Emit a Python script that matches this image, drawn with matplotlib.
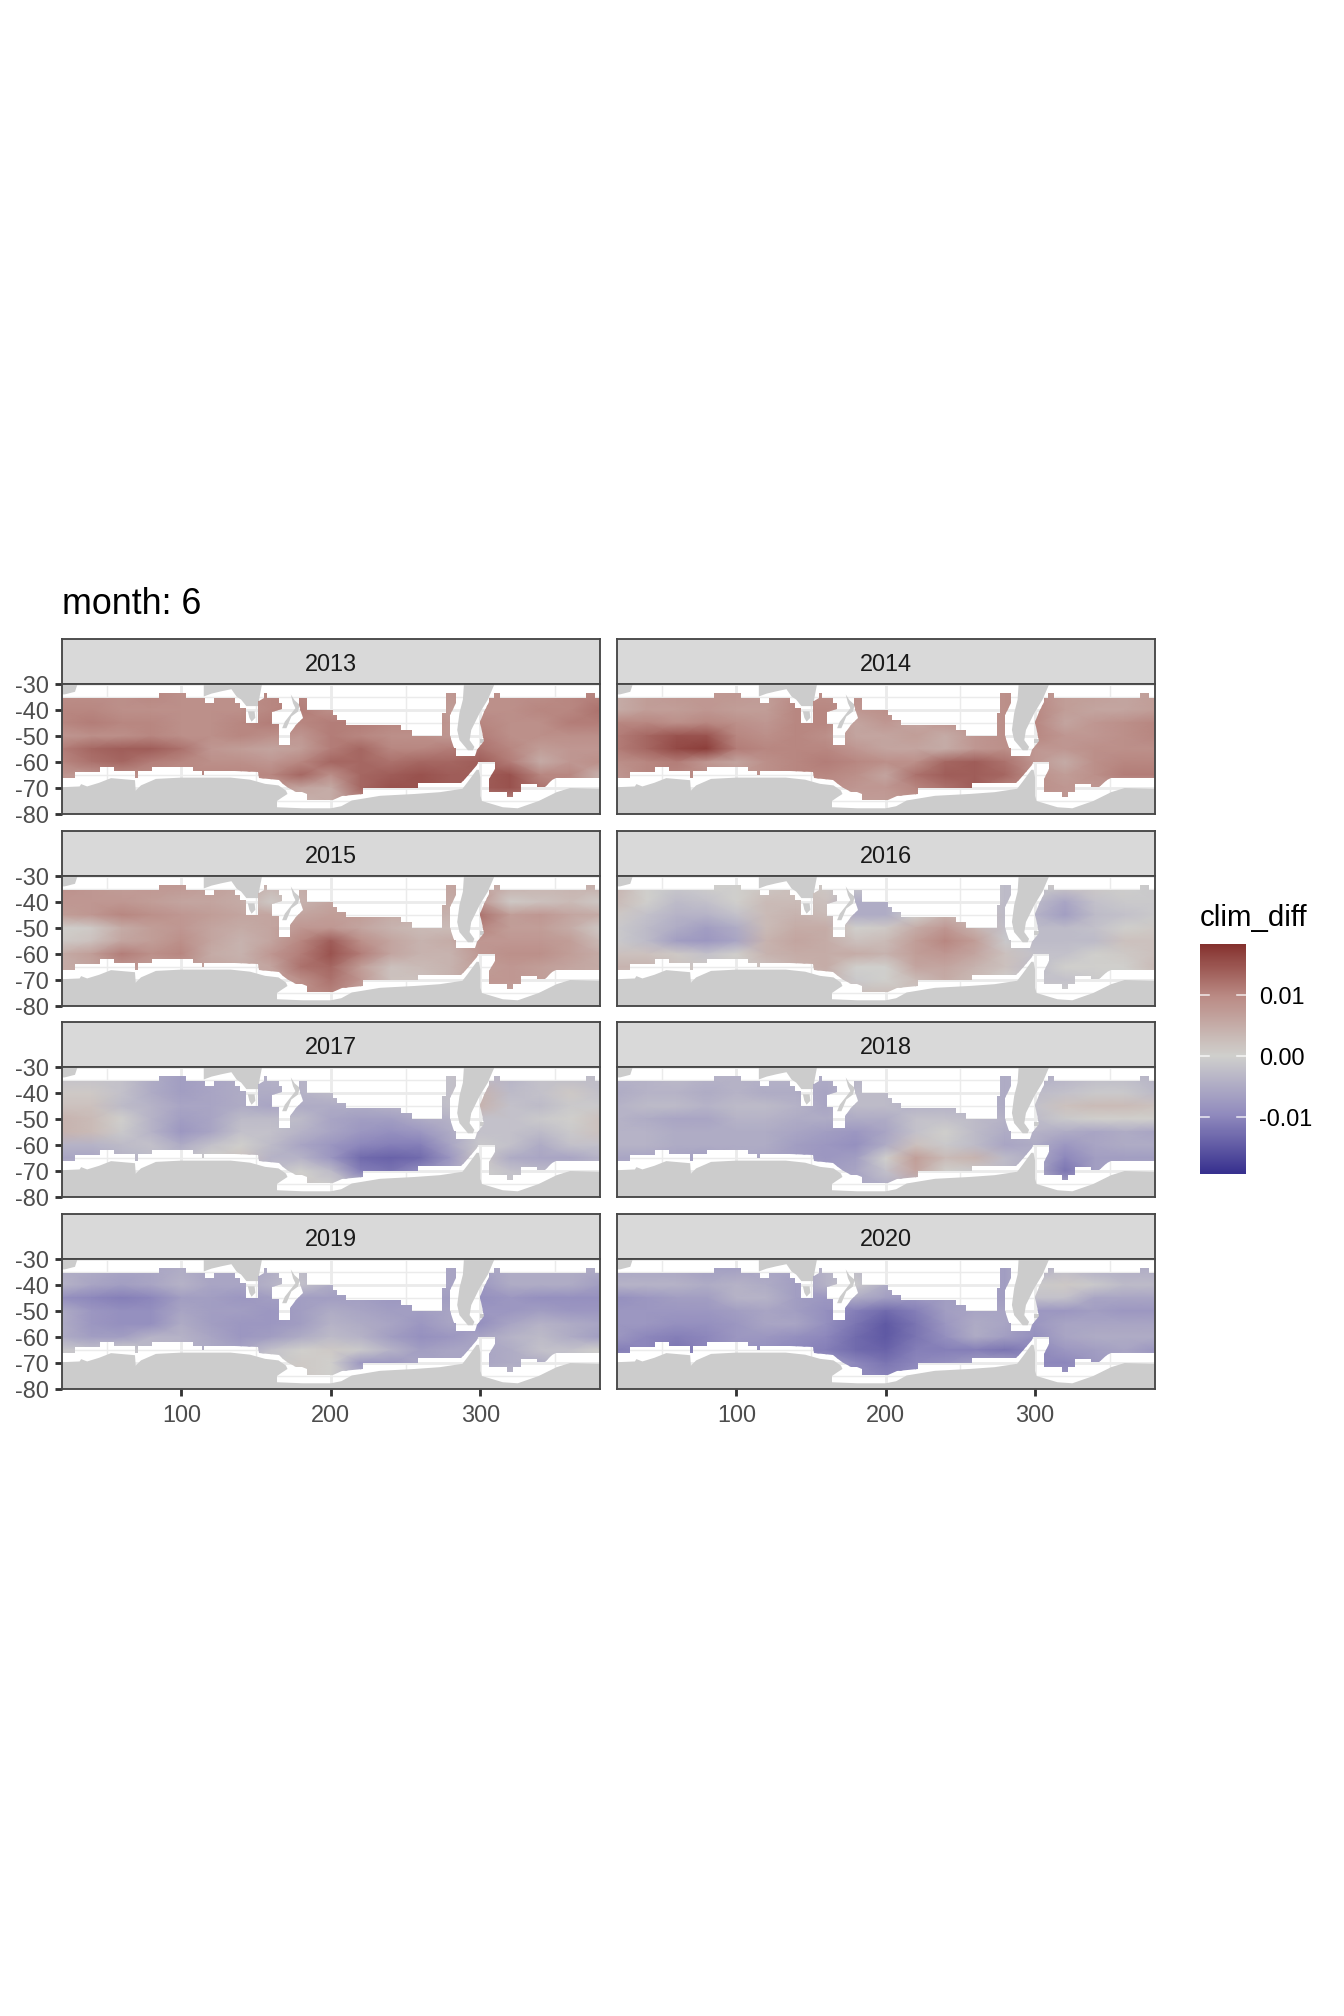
import matplotlib
matplotlib.use("Agg")
import matplotlib.pyplot as plt
import numpy as np
from matplotlib.colors import LinearSegmentedColormap, Normalize
from matplotlib.patches import Polygon

plt.rcParams['font.family'] = ['Liberation Sans', 'DejaVu Sans']

YEARS = [2013, 2014, 2015, 2016, 2017, 2018, 2019, 2020]
TITLE = "month: 6"
LEGEND_TITLE = "clim_diff"
LEGEND_TICKS = [0.01, 0.0, -0.01]
LEGEND_LABELS = ["0.01", "0.00", "-0.01"]
SCALE_TOP, SCALE_BOTTOM = 0.01836, -0.01934

LON_NODES = [20, 40, 60, 80, 100, 120, 140, 160, 180, 200, 220, 240, 260, 280, 300, 320, 340, 360, 380]
LAT_NODES = [-33, -40, -45, -50, -55, -60, -65, -70, -76]

# clim_diff, in units of 0.001, read per node (rows = LAT_NODES, columns = LON_NODES)
V2013 = [
    [9, 9, 9, 10, 9, 9, 9, 10, 10, 9, 9, 9, 9, 8, 9, 9, 9, 10, 10],
    [10, 10, 9, 9, 9, 9, 9, 10, 11, 9, 9, 9, 9, 7, 9, 9, 10, 10, 12],
    [10, 11, 10, 10, 9, 9, 10, 11, 10, 11, 11, 10, 10, 8, 10, 9, 9, 11, 11],
    [8, 9, 9, 10, 9, 9, 10, 9, 8, 11, 10, 9, 9, 8, 11, 9, 9, 9, 9],
    [11, 13, 14, 14, 12, 8, 7, 6, 7, 11, 13, 10, 10, 11, 12, 10, 7, 8, 8],
    [10, 12, 13, 11, 10, 9, 9, 8, 10, 13, 13, 12, 13, 13, 14, 11, 5, 8, 9],
    [8, 8, 9, 9, 9, 10, 10, 10, 13, 9, 13, 14, 15, 14, 14, 15, 10, 10, 4],
    [8, 8, 8, 8, 8, 8, 8, 8, 6, 5, 13, 15, 15, 14, 14, 15, 12, 8, 6],
    [5, 5, 5, 5, 5, 5, 5, 5, 4, 5, 8, 8, 8, 8, 8, 8, 8, 8, 8],
]
V2014 = [
    [5, 7, 8, 8, 8, 7, 9, 9, 9, 8, 8, 8, 8, 9, 9, 7, 7, 6, 7],
    [5, 7, 7, 8, 7, 7, 10, 10, 8, 9, 9, 8, 8, 9, 10, 7, 6, 6, 7],
    [10, 10, 9, 10, 9, 8, 10, 10, 6, 8, 6, 8, 8, 9, 10, 6, 8, 9, 10],
    [11, 13, 15, 15, 10, 9, 10, 9, 6, 6, 7, 5, 8, 9, 10, 8, 8, 9, 10],
    [11, 13, 16, 17, 11, 10, 10, 10, 8, 6, 6, 5, 8, 9, 8, 8, 9, 9, 9],
    [9, 10, 11, 8, 6, 9, 10, 11, 10, 9, 9, 13, 14, 12, 8, 5, 9, 10, 10],
    [8, 10, 10, 9, 8, 9, 10, 10, 9, 6, 12, 14, 14, 13, 9, 7, 9, 11, 11],
    [8, 8, 8, 8, 8, 8, 8, 9, 8, 8, 10, 12, 14, 10, 9, 8, 8, 6, 6],
    [6, 6, 6, 6, 6, 6, 6, 6, 7, 7, 8, 8, 8, 8, 8, 8, 8, 8, 8],
]
V2015 = [
    [9, 8, 7, 8, 8, 7, 6, 4, 5, 6, 6, 6, 6, 6, 6, 5, 4, 4, 5],
    [8, 8, 8, 7, 6, 6, 5, 1, 4, 6, 6, 6, 6, 5, 8, 1, 2, 3, 1],
    [7, 8, 10, 9, 8, 7, 6, 6, 6, 7, 7, 5, 5, 4, 12, 7, 8, 6, 5],
    [0, 1, 5, 7, 8, 6, 5, 6, 8, 8, 6, 4, 3, 3, 10, 7, 7, 5, 1],
    [1, 2, 6, 7, 9, 6, 4, 6, 10, 14, 9, 6, 4, 5, 8, 8, 8, 7, 3],
    [5, 7, 11, 9, 10, 5, 4, 8, 11, 15, 11, 6, 4, 4, 8, 9, 9, 7, 5],
    [5, 6, 8, 7, 7, 6, 5, 6, 12, 13, 7, 2, 3, 4, 7, 8, 7, 6, 5],
    [5, 5, 5, 5, 5, 5, 5, 6, 9, 12, 8, 2, 2, 4, 8, 8, 7, 5, 5],
    [5, 5, 5, 5, 5, 5, 5, 5, 9, 10, 6, 3, 3, 4, 6, 6, 6, 5, 5],
]
V2016 = [
    [4, 0, -1, 0, 0, 1, 2, 1, -1, 0, 0, 0, 0, -3, -1, 1, 1, 0, -1],
    [3, 0, -3, -2, 0, 3, 3, 2, -5, -5, 0, 0, 0, -3, -3, -6, -2, -1, -1],
    [1, -2, -4, -4, -2, 3, 4, 3, -5, -5, 0, 4, 3, -3, -4, -7, -3, -2, -1],
    [-1, -3, -5, -7, -5, 3, 5, 5, 0, 1, 5, 8, 4, -2, -3, -3, -2, 0, 1],
    [-1, -3, -7, -8, -6, 4, 6, 5, 2, 3, 7, 10, 7, -1, -3, -3, -3, 2, 2],
    [2, 2, 1, -2, 0, 4, 5, 5, 5, 4, 7, 8, 6, 2, -2, -2, 0, 1, 2],
    [4, 4, 2, 1, 1, 2, 4, 5, 0, 0, 6, 6, 4, 2, -3, 0, 0, 0, 3],
    [2, 2, 2, 2, 2, 2, 2, 4, -1, 0, 3, 5, 3, 0, -2, -2, -1, 0, 0],
    [1, 1, 1, 1, 1, 1, 1, 1, 3, 3, 1, 1, 1, 0, 0, 0, 0, 0, 0],
]
V2017 = [
    [-2, -2, -2, -5, -7, -6, -5, -4, -4, -3, -3, -3, -2, -2, -3, -4, -2, -3, -3],
    [1, 1, -2, -5, -7, -6, -5, -5, -4, -3, -3, -3, -2, -2, 4, -3, -2, 1, -2],
    [2, 2, -3, -4, -6, -6, -5, -6, -5, -5, -5, -4, -4, -2, 4, -2, -3, -1, -1],
    [4, 3, 0, -4, -7, -6, -3, -3, -3, -6, -7, -7, -5, -4, -2, -2, -1, 0, 2],
    [4, 3, -1, -4, -8, -6, -2, -2, -4, -6, -8, -9, -8, -5, -2, -2, -3, -1, 2],
    [-4, -4, -3, -2, -5, -2, 0, -3, -6, -8, -10, -11, -11, -6, -1, -2, -5, -2, -2],
    [-6, -6, -4, -3, -3, 0, 2, -4, -4, -8, -13, -14, -13, -8, 1, -5, -6, -6, -4],
    [-3, -3, -3, -3, -3, -3, -3, -3, 0, -3, -11, -12, -9, -6, 0, -2, -3, -3, -3],
    [0, 0, 0, 0, 0, 0, 0, 0, 1, 0, -1, -1, -1, -1, -1, -1, -1, -1, -1],
]
V2018 = [
    [-4, -4, -3, -4, -4, -4, -4, -5, -4, -4, -4, -4, -4, -5, -5, -4, -3, -3, -4],
    [-5, -4, -4, -5, -4, -5, -5, -6, -3, -3, -4, -4, -4, -5, -3, -2, -1, -1, -3],
    [-4, -3, -3, -4, -3, -3, -4, -6, -3, -3, -4, -4, -4, -5, -2, 2, 3, 3, 2],
    [-4, -5, -6, -6, -4, -4, -5, -5, -5, -5, -2, -2, -3, -4, -3, -1, 0, 0, 0],
    [-4, -4, -5, -5, -5, -5, -6, -7, -8, -6, -2, 0, -3, -5, -4, -5, -6, -5, -6],
    [-4, -4, -5, -5, -5, -5, -7, -8, -9, -5, 2, -1, -3, -6, -5, -8, -6, -5, -5],
    [-6, -6, -6, -7, -5, -6, -7, -8, -7, 0, 7, 3, 4, -3, -5, -10, -7, -7, -7],
    [-5, -5, -5, -5, -5, -5, -5, -7, -6, -2, 6, 0, -1, -3, -5, -12, -7, -5, -5],
    [-5, -5, -5, -5, -5, -5, -5, -5, -6, -5, -3, -3, -3, -3, -5, -5, -5, -5, -5],
]
V2019 = [
    [-5, -5, -6, -6, -5, -6, -6, -5, -3, -4, -4, -5, -5, -6, -6, -5, -5, -5, -5],
    [-4, -6, -7, -6, -4, -6, -6, -4, -2, -5, -5, -5, -5, -6, -8, -5, -5, -5, -7],
    [-9, -10, -11, -10, -7, -7, -8, -7, -7, -7, -7, -8, -7, -7, -9, -8, -9, -9, -9],
    [-5, -8, -9, -9, -6, -7, -7, -8, -7, -5, -6, -7, -7, -6, -8, -8, -7, -8, -8],
    [-5, -8, -9, -9, -5, -7, -8, -8, -7, -4, -5, -6, -8, -6, -9, -6, -4, -5, -6],
    [-5, -7, -7, -4, -4, -6, -8, -7, -5, -3, -4, -7, -9, -8, -6, -4, -3, -5, -7],
    [-1, -2, 0, -3, -4, -5, -6, -2, 0, 1, -1, -4, -7, -6, -6, -5, -2, -2, 0],
    [-1, -1, -1, -1, -1, -1, -1, -1, 1, 0, -8, -8, -6, -6, -6, -5, -5, -1, -1],
    [0, 0, 0, 0, 0, 0, 0, 0, 1, 0, -3, -3, -3, -3, -3, -3, -3, -3, -3],
]
V2020 = [
    [-6, -6, -6, -7, -7, -6, -6, -4, -3, -5, -6, -6, -6, -7, -5, -3, -5, -5, -5],
    [-4, -4, -4, -5, -4, -5, -7, -4, -1, -5, -6, -6, -6, -7, -1, 1, -1, -3, -3],
    [-9, -8, -7, -7, -4, -4, -7, -8, -5, -7, -8, -7, -7, -7, -2, -2, -6, -6, -6],
    [-8, -8, -8, -8, -7, -6, -7, -9, -11, -13, -11, -7, -6, -6, -8, -8, -7, -8, -8],
    [-8, -8, -9, -9, -8, -6, -6, -9, -12, -15, -12, -8, -5, -6, -8, -6, -6, -6, -6],
    [-8, -10, -11, -10, -8, -8, -9, -10, -13, -15, -12, -9, -5, -7, -9, -6, -5, -5, -5],
    [-11, -10, -12, -10, -8, -9, -10, -11, -13, -14, -11, -11, -11, -12, -10, -8, -7, -6, -8],
    [-8, -8, -8, -8, -8, -8, -8, -7, -10, -12, -10, -9, -7, -6, -10, -10, -8, -6, -6],
    [-8, -8, -8, -8, -8, -8, -8, -8, -9, -10, -9, -7, -7, -7, -8, -8, -8, -8, -8],
]
VALUES = [V2013, V2014, V2015, V2016, V2017, V2018, V2019, V2020]

OCEAN_LON = [20, 85, 85, 103, 103, 116, 116, 122, 122, 136, 136, 139, 139, 143, 143, 151, 151, 152, 155, 155, 157, 157,
             165, 165, 167.5, 167.5, 160.5, 160.5, 165, 165, 173, 173, 177, 181.5, 179, 179, 184, 184, 201.5, 201.5,
             204, 204, 210, 210, 247, 247, 254, 254, 274.3, 274.3, 276.7, 276.7, 283.7, 283.7, 280, 280, 282.5, 283.7, 283.7,
             296.7, 298, 302.5, 300, 302.5, 306, 306, 308.8, 308.8, 313, 313, 370.6, 370.6, 376.6, 376.6, 380,
             380, 350.7, 348, 343, 337.8, 337.8, 327, 327, 322, 322, 318, 318, 306, 306, 309.6, 309.6, 298.5, 297.8, 294,
             289.7, 287, 258, 258, 221.5, 221.5, 207.4, 201.5, 184, 184, 181, 177, 171, 168, 165, 152, 151, 136, 115.5, 115.5,
             113.5, 113.5, 108, 108, 80.6, 80.6, 71, 71, 69, 69, 54.8, 54.8, 45.4, 45.4, 29, 29, 20]
OCEAN_LAT = [-35.4, -35.4, -33.5, -33.5, -35.4, -35.4, -37.4, -37.4, -35.4, -35.4, -37.4, -37.4, -39.3, -39.3, -45, -45, -36.7, -36.7, -35.4, -33.5, -33.5, -35.4,
             -35.4, -37.4, -37.4, -39.5, -40.6, -45.5, -45.5, -53.5, -53.5, -49, -45.8, -43, -38, -35.4, -35.4, -40, -40, -42,
             -42, -44, -44, -45.8, -45.8, -47.7, -47.7, -50, -50, -41.2, -41.2, -33.5, -33.5, -37.4, -42, -50, -54.8, -54.8, -57.6,
             -57.6, -55.4, -52, -44.5, -40.6, -37, -35.4, -35.4, -33.5, -33.5, -35.4, -35.4, -33.5, -33.5, -35.4, -35.4,
             -66, -66, -67, -69.7, -69.7, -68.4, -68.4, -71.6, -71.6, -73.5, -73.5, -71.6, -71.6, -66.5, -62.5, -60, -60, -61.3, -64,
             -66.5, -68, -68, -70, -70, -72.2, -72.9, -74.8, -74.8, -72.2, -71.6, -71.6, -69.7, -68.4, -67, -66, -64, -63.6, -63.6, -65,
             -65, -63.6, -63.6, -62, -62, -63.6, -63.6, -66, -66, -63.6, -63.6, -62, -62, -63.8, -63.8, -66, -66]

ANTARCTICA_LON = [20, 32, 33, 37, 45, 53, 69, 69.5, 73, 83, 100, 133, 146, 156, 165, 170, 171, 167.5, 164, 164, 181, 200, 207, 214,
                  233, 256, 273, 288, 291.5, 297.5, 299, 300, 300, 301, 315, 325, 339, 351, 360, 380, 380, 20]
ANTARCTICA_LAT = [-69.7, -69.4, -68.5, -69.4, -68, -66.2, -67, -71, -69, -66.5, -66, -66, -66.8, -68.4, -69, -71, -72.3, -73.6, -75, -77.4, -77.8, -77.8, -77, -74.8,
                  -73, -72.3, -71.6, -70.3, -67.7, -63, -63, -66, -73, -75, -77.4, -77.8, -75, -71.6, -70, -70.3, -80, -80]
S_AMERICA_LON = [289, 288.3, 286, 284.5, 286, 291.7, 295, 296, 292.8, 293.9, 299.5, 305, 309.5]
S_AMERICA_LAT = [-30, -36, -41.2, -47.7, -51.6, -55.5, -55.5, -54.2, -51.6, -47.7, -41.2, -36, -30]
FALKLAND_LON = [299.5, 303.2, 303.2, 299.5]
FALKLAND_LAT = [-51.3, -51.3, -52.6, -52.6]
AFRICA_LON = [20, 30.6, 28.9, 22, 20]
AFRICA_LAT = [-30, -30, -33, -34, -34]
AUSTRALIA_LON = [115, 115, 120.2, 126.8, 133.5, 136.9, 140, 143.5, 151.3, 152.4, 154]
AUSTRALIA_LAT = [-30, -34.8, -33.7, -32.8, -32, -34.8, -36, -38.5, -38.5, -34.8, -30]
TASMANIA_LON = [144.5, 149, 149.5, 147, 145.5]
TASMANIA_LAT = [-40.5, -40.5, -43, -44.5, -43]
NZ_LON = [173.2, 175.8, 179.2, 178, 173.6, 170.3, 167.4, 169.2, 174, 176.3, 174.7]
NZ_LAT = [-34, -36.3, -38, -40.6, -42.5, -47, -47, -44.5, -41, -39.3, -37.4]
LAND = [(ANTARCTICA_LON, ANTARCTICA_LAT), (S_AMERICA_LON, S_AMERICA_LAT), (FALKLAND_LON, FALKLAND_LAT),
        (AFRICA_LON, AFRICA_LAT), (AUSTRALIA_LON, AUSTRALIA_LAT), (TASMANIA_LON, TASMANIA_LAT), (NZ_LON, NZ_LAT)]

W, H = 1344, 2016
fig = plt.figure(figsize=(W / 192, H / 192), dpi=192, facecolor='white')

def axpx(x0, y0, x1, y1):
    return fig.add_axes([x0 / W, 1 - y1 / H, (x1 - x0) / W, (y1 - y0) / H])

cmap = LinearSegmentedColormap.from_list("clim", [
    (0.0, "#38318F"), (0.25, "#918BBE"), (0.5, "#D0D0CD"), (0.75, "#BB8B85"), (1.0, "#7E2623")])
LIM = max(abs(SCALE_TOP), abs(SCALE_BOTTOM))
norm = Normalize(-LIM, LIM)

COLS = [(61.7, 600), (617, 1154.5)]
ROWS = [(639, 684, 814), (831, 876, 1006), (1022, 1067, 1197), (1214, 1259, 1389)]
DARK = "#333333"
BORDER = "#474747"
LW = 1.07
BORDER_LW = 0.7

for i, year in enumerate(YEARS):
    r, c = i // 2, i % 2
    x0, x1 = COLS[c]
    st, pt, pb = ROWS[r]
    sax = axpx(x0, st, x1, pt)
    sax.set_facecolor("#D9D9D9")
    sax.set_xticks([]); sax.set_yticks([])
    for s in sax.spines.values():
        s.set_color(BORDER); s.set_linewidth(BORDER_LW)
    sax.text(0.5, 0.44, str(year), ha='center', va='center', fontsize=8.8, color="#1A1A1A", transform=sax.transAxes)

    ax = axpx(x0, pt, x1, pb)
    ax.set_xlim(20, 380); ax.set_ylim(-80, -30)
    ax.set_axisbelow(True)
    ax.set_xticks([100, 200, 300]); ax.set_xticks([50, 150, 250, 350], minor=True)
    ax.set_yticks([-30, -40, -50, -60, -70, -80]); ax.set_yticks([-35, -45, -55, -65, -75], minor=True)
    ax.grid(which='major', color="#EBEBEB", lw=LW)
    ax.grid(which='minor', color="#EBEBEB", lw=LW / 2)
    ax.tick_params(which='minor', length=0)
    ax.tick_params(which='major', length=2.75, width=LW, color=DARK, labelcolor="#4D4D4D", labelsize=8.8, pad=2.2)
    ax.tick_params(axis='x', which='major', pad=3)
    ax.set_xticklabels(["100", "200", "300"] if r == 3 else [])
    ax.set_yticklabels(["-30", "-40", "-50", "-60", "-70", "-80"] if c == 0 else [])
    if r != 3:
        ax.tick_params(axis='x', which='major', length=0)
    if c != 0:
        ax.tick_params(axis='y', which='major', length=0)
    for s in ax.spines.values():
        s.set_color(BORDER); s.set_linewidth(BORDER_LW); s.set_zorder(10)
    for lon, lat in LAND:
        ax.add_patch(Polygon(np.column_stack([lon, lat]), closed=True, fc="#CCCCCC", ec="none", zorder=2))
    mesh = ax.pcolormesh(LON_NODES, LAT_NODES, np.array(VALUES[i]) / 1000.0, shading='gouraud',
                         cmap=cmap, norm=norm, zorder=3)
    mesh.set_clip_path(Polygon(np.column_stack([OCEAN_LON, OCEAN_LAT]), closed=True, transform=ax.transData))

fig.text(61.7 / W, 1 - 614.5 / H, TITLE, fontsize=13.4, color="black", ha='left', va='baseline')

BAR = (1200, 944, 1246, 1174)
cax = axpx(*BAR)
cax.imshow(np.linspace(SCALE_TOP, SCALE_BOTTOM, 256)[:, None], aspect='auto', cmap=cmap, norm=norm,
           extent=[0, 1, SCALE_BOTTOM, SCALE_TOP], interpolation='bilinear')
cax.set_xlim(0, 1); cax.set_ylim(SCALE_BOTTOM, SCALE_TOP)
cax.set_xticks([]); cax.set_yticks([])
for s in cax.spines.values():
    s.set_visible(False)
for t, lab in zip(LEGEND_TICKS, LEGEND_LABELS):
    cax.plot([0, 0.2], [t, t], color="white", lw=0.6, alpha=0.8)
    cax.plot([0.8, 1], [t, t], color="white", lw=0.6, alpha=0.8)
    cax.annotate(lab, xy=(1, t), xycoords=('axes fraction', 'data'), xytext=(13.5 * 72 / 192, -2.5 * 72 / 192),
                 textcoords='offset points', fontsize=8.8, va='center', ha='left', color="black")
fig.text(1199.5 / W, 1 - 926 / H, LEGEND_TITLE, fontsize=11, color="black", ha='left', va='baseline')

fig.savefig("out.png", dpi=192, facecolor='white')
